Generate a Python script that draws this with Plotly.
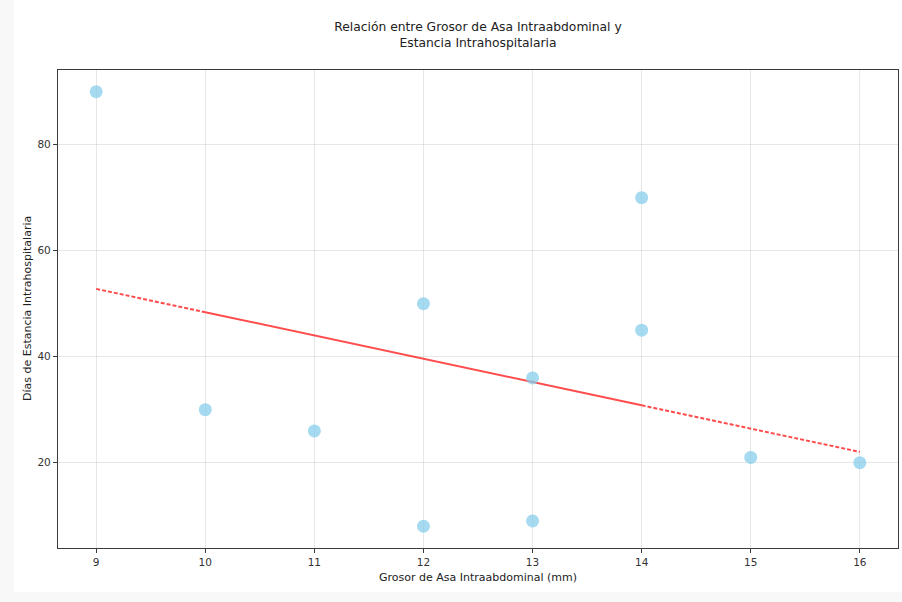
import numpy as np
import plotly.graph_objects as go

grosor_mm = [9, 10, 11, 12, 12, 13, 13, 14, 14, 15, 16]
dias_estancia = [90, 30, 26, 50, 8, 36, 9, 70, 45, 21, 20]
x_ticks = [9, 10, 11, 12, 13, 14, 15, 16]
y_ticks = [20, 40, 60, 80]

slope, intercept = np.polyfit(grosor_mm, dias_estancia, 1)
fit = lambda v: None if v is None else slope * v + intercept
x_dash = [9.0, 10.0, None, 14.0, 16.0]
x_solid = [10.0, 14.0]

fig = go.Figure()
fig.add_trace(go.Scatter(
    x=x_dash, y=[fit(v) for v in x_dash], mode="lines", connectgaps=False,
    line=dict(color="rgba(255,0,0,0.7)", width=2, dash="4px,2px"),
    hoverinfo="skip", showlegend=False))
fig.add_trace(go.Scatter(
    x=x_solid, y=[fit(v) for v in x_solid], mode="lines",
    line=dict(color="rgba(255,0,0,0.7)", width=2),
    hoverinfo="skip", showlegend=False))
fig.add_trace(go.Scatter(
    x=grosor_mm, y=dias_estancia, mode="markers",
    marker=dict(color="rgba(135,206,235,0.75)", size=13, line=dict(width=0)),
    showlegend=False))

axis_common = dict(
    showgrid=True, gridcolor="rgba(176,176,176,0.3)", gridwidth=1,
    showline=True, linecolor="#3a3a3a", linewidth=1.2, mirror=True,
    ticks="outside", ticklen=4, tickcolor="#3a3a3a", tickwidth=1,
    tickfont=dict(family="DejaVu Sans", size=10.5, color="#333"),
    zeroline=False,
)
fig.update_layout(
    width=902, height=602,
    paper_bgcolor="#f8f8f8", plot_bgcolor="white",
    margin=dict(l=58, r=4, t=70, b=54),
    title=dict(
        text="Relación entre Grosor de Asa Intraabdominal y<br>Estancia Intrahospitalaria",
        x=0.5, xref="paper", xanchor="center", y=0.949, yanchor="middle",
        font=dict(family="DejaVu Sans", size=12.3, color="#222")),
    xaxis=dict(axis_common, range=[8.65, 16.35], tickvals=x_ticks,
               title=dict(text="Grosor de Asa Intraabdominal (mm)",
                          font=dict(family="DejaVu Sans", size=11, color="#222"),
                          standoff=6)),
    yaxis=dict(axis_common, range=[3.9, 94.1], tickvals=y_ticks),
    annotations=[dict(text="Días de Estancia Intrahospitalaria", textangle=-90,
                      xref="paper", yref="paper", x=0, y=0.5,
                      xanchor="center", yanchor="middle", xshift=-31,
                      showarrow=False,
                      font=dict(family="DejaVu Sans", size=11, color="#222"))],
    shapes=[dict(type="rect", xref="paper", yref="paper",
                 x0=-0.0525, x1=1.01, y0=-0.092, y1=1.2,
                 fillcolor="white", line=dict(width=0), layer="below")],
)

fig.write_html("out.html", config={"displayModeBar": False},
               post_script="document.body.style.margin='0';")
